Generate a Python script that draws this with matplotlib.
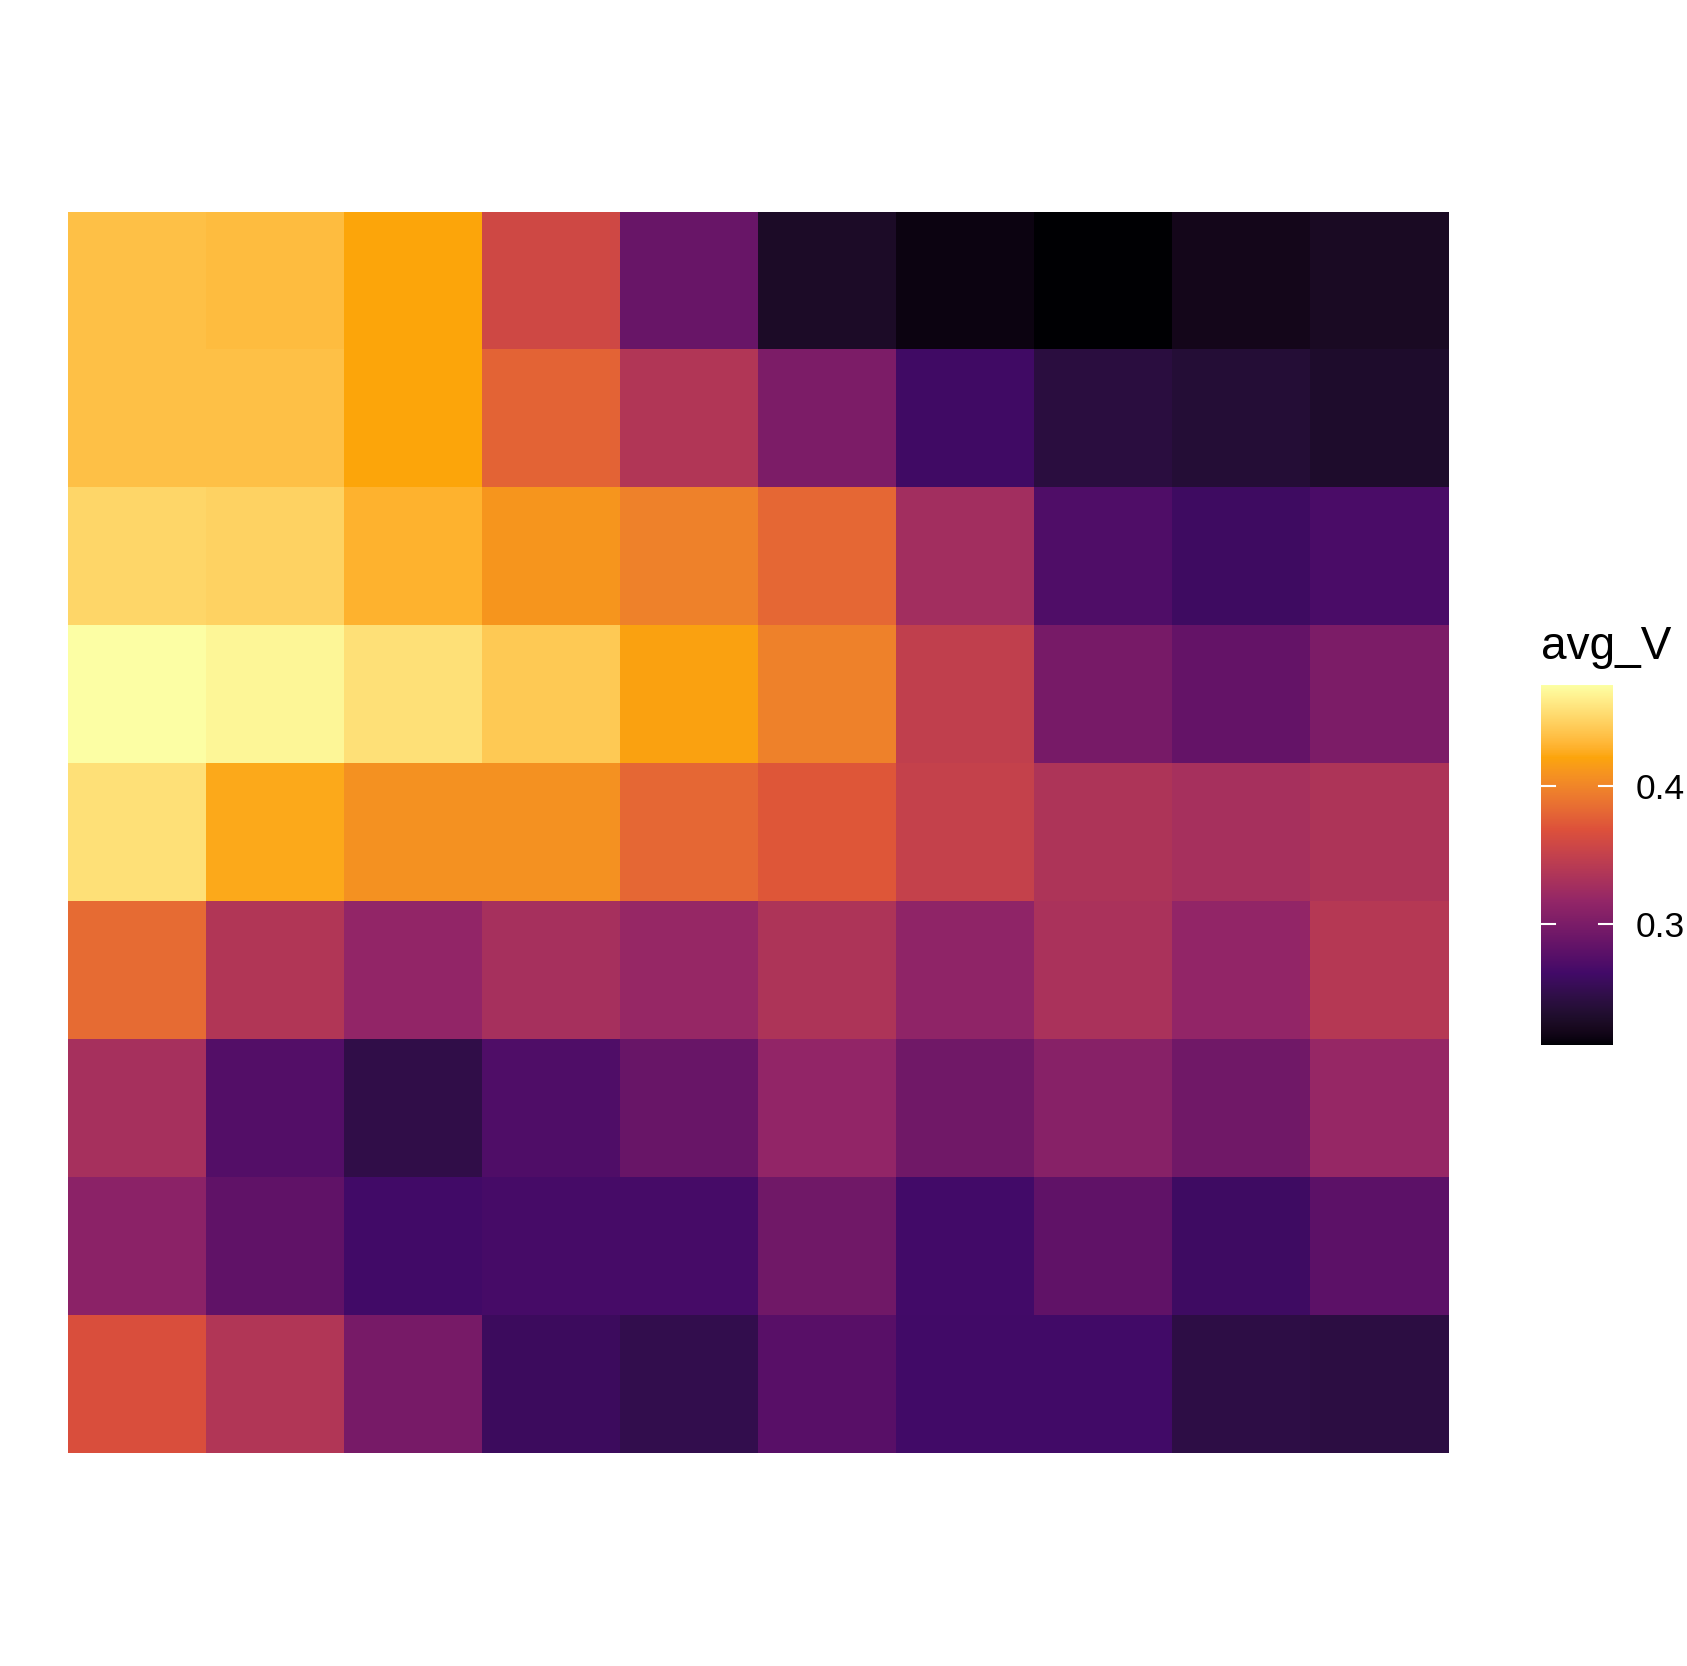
import numpy as np
import matplotlib
matplotlib.use("Agg")
import matplotlib.pyplot as plt
from matplotlib.colors import ListedColormap

plt.rcParams['font.family'] = ['Liberation Sans', 'DejaVu Sans']

rows = list(range(1, 10))
cols = list(range(1, 11))
row1 = [0.4364, 0.4338, 0.4207, 0.3583, 0.2880, 0.2307, 0.2177, 0.2125, 0.2229, 0.2281]
row2 = [0.4364, 0.4364, 0.4207, 0.3790, 0.3374, 0.3010, 0.2630, 0.2437, 0.2385, 0.2333]
row3 = [0.4494, 0.4468, 0.4285, 0.4103, 0.3973, 0.3817, 0.3270, 0.2724, 0.2615, 0.2698]
row4 = [0.4728, 0.4676, 0.4546, 0.4416, 0.4181, 0.3973, 0.3479, 0.2984, 0.2854, 0.3010]
row5 = [0.4546, 0.4233, 0.4077, 0.4077, 0.3817, 0.3713, 0.3505, 0.3348, 0.3296, 0.3348]
row6 = [0.3843, 0.3374, 0.3166, 0.3296, 0.3192, 0.3348, 0.3140, 0.3322, 0.3166, 0.3400]
row7 = [0.3296, 0.2750, 0.2489, 0.2724, 0.2880, 0.3166, 0.2932, 0.3088, 0.2932, 0.3192]
row8 = [0.3114, 0.2828, 0.2646, 0.2672, 0.2672, 0.2932, 0.2650, 0.2828, 0.2620, 0.2802]
row9 = [0.3661, 0.3374, 0.2984, 0.2594, 0.2515, 0.2776, 0.2646, 0.2646, 0.2470, 0.2455]
cbar_ticks = [0.3, 0.4]
cbar_labels = ["0.3", "0.4"]
legend_title = "avg_V"

# six inferno stops, interpolated in CIELAB (like ggplot's viridis_c scale)
stops_hex = ["#000004", "#420A68", "#932667", "#DD513A", "#FCA50A", "#FCFFA4"]


def hex2rgb(h):
    return np.array([int(h[i:i + 2], 16) for i in (1, 3, 5)]) / 255.0


M = np.array([[0.4124564, 0.3575761, 0.1804375],
              [0.2126729, 0.7151522, 0.0721750],
              [0.0193339, 0.1191920, 0.9503041]])
WP = np.array([0.95047, 1.0, 1.08883])


def rgb2lab(c):
    lin = np.where(c <= 0.04045, c / 12.92, ((c + 0.055) / 1.055) ** 2.4)
    xyz = M @ lin / WP
    f = np.where(xyz > (6 / 29) ** 3, np.cbrt(xyz), xyz / (3 * (6 / 29) ** 2) + 4 / 29)
    return np.array([116 * f[1] - 16, 500 * (f[0] - f[1]), 200 * (f[1] - f[2])])


def lab2rgb(lab):
    L, a, b = lab
    fy = (L + 16) / 116
    fx = fy + a / 500
    fz = fy - b / 200
    f = np.array([fx, fy, fz])
    xyz = np.where(f > 6 / 29, f ** 3, 3 * (6 / 29) ** 2 * (f - 4 / 29)) * WP
    lin = np.linalg.inv(M) @ xyz
    lin = np.clip(lin, 0, 1)
    return np.where(lin <= 0.0031308, 12.92 * lin, 1.055 * lin ** (1 / 2.4) - 0.055).clip(0, 1)


labs = [rgb2lab(hex2rgb(h)) for h in stops_hex]
pos = np.linspace(0, 1, len(stops_hex))
samples = []
for t in np.linspace(0, 1, 512):
    lab = np.array([np.interp(t, pos, [l[k] for l in labs]) for k in range(3)])
    samples.append(lab2rgb(lab))
cmap = ListedColormap(samples)

data = np.array([row1, row2, row3, row4, row5, row6, row7, row8, row9])
vmin, vmax = data.min(), data.max()

W, H = 1687, 1666
fig = plt.figure(figsize=(W / 100, H / 100), dpi=100)
ax = fig.add_axes([68 / W, 1 - 1453 / H, (1449 - 68) / W, (1453 - 212) / H])
im = ax.imshow(data, cmap=cmap, vmin=vmin, vmax=vmax, aspect='auto',
               interpolation='nearest',
               extent=[0.5, len(cols) + 0.5, len(rows) + 0.5, 0.5])
ax.axis('off')

cax = fig.add_axes([1541 / W, 1 - 1045 / H, 72 / W, 360 / H])
cb = fig.colorbar(im, cax=cax)
cb.outline.set_visible(False)
cb.set_ticks(cbar_ticks)
cb.set_ticklabels(cbar_labels)
cax.tick_params(length=0, labelsize=25.5, pad=16.5)
for t in cbar_ticks:
    cax.axhline(t, xmin=0, xmax=0.2, color='white', lw=1.5)
    cax.axhline(t, xmin=0.8, xmax=1, color='white', lw=1.5)
fig.text(1541 / W, 1 - 659 / H, legend_title, fontsize=33, ha='left', va='baseline')

fig.savefig("out.png", dpi=100, facecolor='white')
